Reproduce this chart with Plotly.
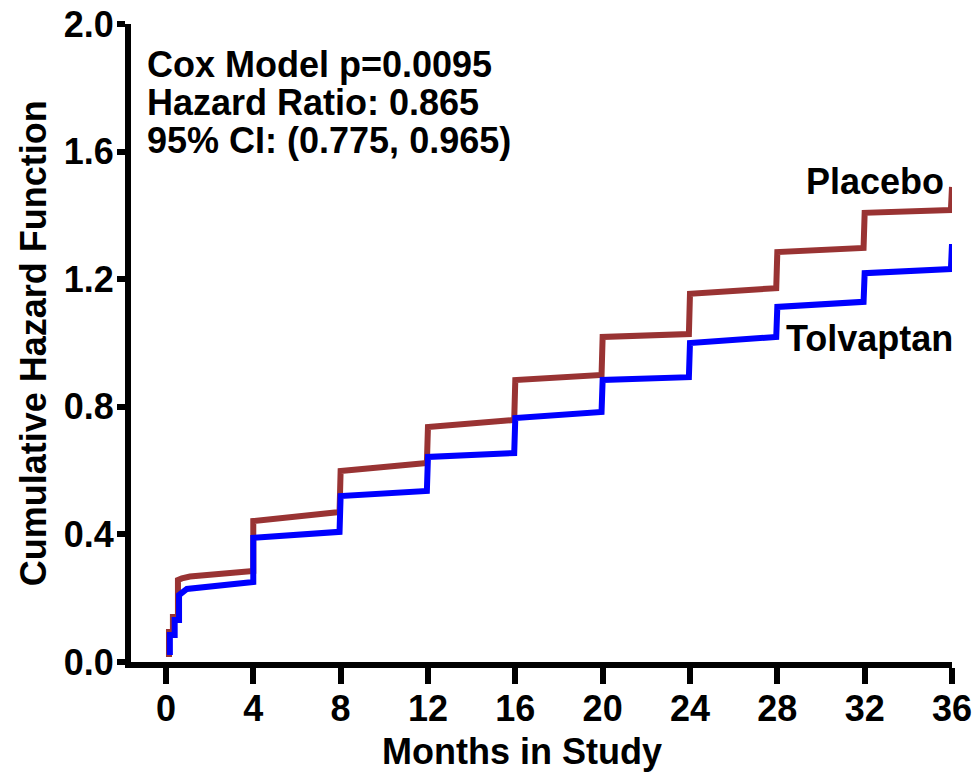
import plotly.graph_objects as go

# Cumulative hazard estimates by month (visits every 4 months)
placebo_months = [0.14, 0.14, 0.32, 0.32, 0.55, 0.55, 0.73, 1.1, 4.0, 4.0, 7.95, 8.0,
                  11.95, 12.0, 15.95, 16.0, 19.95, 20.0, 23.95, 24.0, 27.95, 28.0,
                  31.95, 32.0, 35.95, 36.0]
placebo_hazard = [0.016, 0.094, 0.094, 0.141, 0.141, 0.257, 0.262, 0.268, 0.285, 0.442,
                  0.470, 0.599, 0.624, 0.737, 0.759, 0.884, 0.900, 1.019, 1.028, 1.154,
                  1.172, 1.285, 1.298, 1.408, 1.417, 1.489]

tolvaptan_months = [0.18, 0.18, 0.4, 0.4, 0.6, 0.6, 0.96, 4.0, 4.0, 7.95, 8.0,
                    11.95, 12.0, 15.95, 16.0, 19.95, 20.0, 23.95, 24.0, 27.95, 28.0,
                    31.95, 32.0, 35.95, 36.0]
tolvaptan_hazard = [0.022, 0.085, 0.085, 0.132, 0.132, 0.210, 0.229, 0.251, 0.389,
                    0.408, 0.520, 0.536, 0.643, 0.655, 0.765, 0.784, 0.884, 0.893, 1.000,
                    1.019, 1.113, 1.129, 1.219, 1.232, 1.310]

x_ticks = [0, 4, 8, 12, 16, 20, 24, 28, 32, 36]
y_ticks = [0.0, 0.4, 0.8, 1.2, 1.6, 2.0]
y_tick_labels = ["0.0", "0.4", "0.8", "1.2", "1.6", "2.0"]

stats_lines = ["Cox Model p=0.0095", "Hazard Ratio: 0.865", "95% CI: (0.775, 0.965)"]

FONT = "Liberation Sans, Arial, sans-serif"
BROWN = "#993333"
BLUE = "#0000FF"

fig = go.Figure()
fig.add_trace(go.Scatter(x=placebo_months, y=placebo_hazard, mode="lines",
                         line=dict(color=BROWN, width=6), name="Placebo",
                         showlegend=False))
fig.add_trace(go.Scatter(x=tolvaptan_months, y=tolvaptan_hazard, mode="lines",
                         line=dict(color=BLUE, width=6), name="Tolvaptan",
                         showlegend=False))

tick_font = dict(family=FONT, size=36, color="black", weight="bold")

fig.update_xaxes(range=[-1.6, 36], tickvals=x_ticks, showline=True, linewidth=6,
                 linecolor="black", ticks="outside", ticklen=16, tickwidth=6,
                 tickcolor="black", showgrid=False, zeroline=False,
                 tickfont=tick_font, ticklabelstandoff=-6, automargin=False)
fig.update_yaxes(range=[0, 2.0], tickvals=y_ticks, ticktext=y_tick_labels,
                 showline=True, linewidth=6, linecolor="black", ticks="outside",
                 ticklen=8, tickwidth=6, tickcolor="black", showgrid=False,
                 zeroline=False, tickfont=tick_font, ticklabelstandoff=-4,
                 automargin=False)

ann_font = dict(family=FONT, size=36, color="black", weight="bold")
annotations = []
for txt, yv in zip(stats_lines, [1.872, 1.753, 1.636]):
    annotations.append(dict(x=-0.95, y=yv, xref="x", yref="y", text=txt,
                            showarrow=False, xanchor="left", yanchor="middle",
                            font=ann_font))
annotations.append(dict(x=0.9927, y=1.505, xref="paper", yref="y", text="Placebo",
                        showarrow=False, xanchor="right", yanchor="middle",
                        font=ann_font))
annotations.append(dict(x=28.3, y=1.015, xref="x", yref="y", text="Tolvaptan",
                        showarrow=False, xanchor="left", yanchor="middle",
                        font=ann_font))
annotations.append(dict(x=16.3, y=-0.140, xref="x", yref="paper",
                        text="Months in Study", showarrow=False,
                        xanchor="center", yanchor="middle",
                        font=dict(family=FONT, size=36, color="black", weight="bold")))
annotations.append(dict(x=-0.119, y=0.5, xref="paper", yref="paper",
                        text="Cumulative Hazard Function", showarrow=False,
                        textangle=-90, xanchor="center", yanchor="middle",
                        font=dict(family=FONT, size=36, color="black", weight="bold")))

fig.update_layout(width=975, height=773, margin=dict(l=131, r=23, t=24, b=111),
                  plot_bgcolor="white", paper_bgcolor="white",
                  annotations=annotations)

fig.write_html("out.html")
